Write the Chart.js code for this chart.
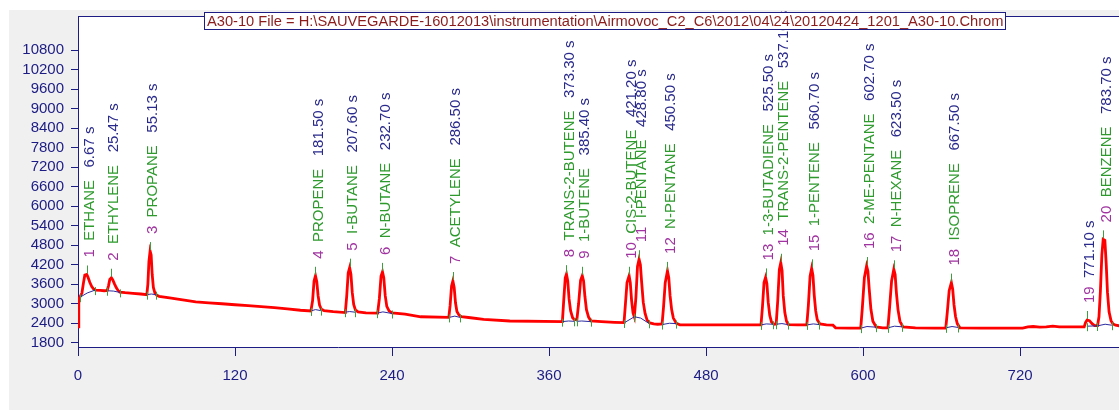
<!DOCTYPE html>
<html>
<head>
<meta charset="utf-8">
<script src="https://cdn.jsdelivr.net/npm/chart.js@4.4.1/dist/chart.umd.min.js"></script>
<style>
  html, body { margin: 0; padding: 0; background: #fff; overflow: hidden; }
  canvas { display: block; }
</style>
</head>
<body>
<canvas id="chrom" width="1119" height="410"></canvas>
<script>
// ---- data ----
var titleText = String.raw`A30-10 File = H:\SAUVEGARDE-16012013\instrumentation\Airmovoc_C2_C6\2012\04\24\20120424_1201_A30-10.Chrom`;

var xTicks = [0, 120, 240, 360, 480, 600, 720];
var yTicks = [1800, 2400, 3000, 3600, 4200, 4800, 5400, 6000, 6600, 7200, 7800, 8400, 9000, 9600, 10200, 10800];

var peakNums  = [1, 2, 3, 4, 5, 6, 7, 8, 9, 10, 11, 12, 13, 14, 15, 16, 17, 18, 19, 20];
var peakNames = ['ETHANE', 'ETHYLENE', 'PROPANE', 'PROPENE', 'I-BUTANE', 'N-BUTANE', 'ACETYLENE',
                 'TRANS-2-BUTENE', '1-BUTENE', 'CIS-2-BUTENE', 'I-PENTANE', 'N-PENTANE',
                 '1-3-BUTADIENE', 'TRANS-2-PENTENE', '1-PENTENE', '2-ME-PENTANE', 'N-HEXANE',
                 'ISOPRENE', '', 'BENZENE'];
var peakTimes = [6.67, 25.47, 55.13, 181.5, 207.6, 232.7, 286.5, 373.3, 385.4, 421.2,
                 428.8, 450.5, 525.5, 537.1, 560.7, 602.7, 623.5, 667.5, 771.1, 783.7];
var peakTops  = [3900, 3800, 4620, 3860, 4110, 3980, 3700, 3910, 3860, 3860,
                 4370, 4010, 3810, 4260, 4090, 4160, 4060, 3650, 2500, 4980];

// detector signal: [time s, signal]
var trace = [
  [0,2290],[0.6,3150],[1.5,3210],[3,3330],[4.2,3650],[5.2,3880],[6.7,3900],[7.6,3820],[9,3660],[10.5,3530],
  [12,3450],[13.5,3420],[17,3410],[20,3400],[22.3,3410],
  [23.3,3550],[24.3,3750],[25.5,3800],[26.5,3740],[27.8,3620],[29.2,3500],[30.6,3410],[32,3360],[36,3340],
  [42,3320],[48,3300],[52.6,3280],
  [53.4,3600],[54.2,4300],[55.1,4620],[55.9,4500],[56.7,3900],[57.6,3500],[58.8,3330],[60.3,3260],[62,3230],
  [70,3180],[80,3120],[90,3060],[100,3030],[110,3000],[120,2970],[130,2940],[140,2910],[150,2880],[160,2840],
  [170,2800],[178,2780],
  [179.3,3100],[180.4,3700],[181.5,3860],[182.5,3680],[183.5,3250],[184.6,2960],[186,2830],[188,2790],[195,2760],[204.3,2730],
  [205.4,3250],[206.5,3950],[207.6,4110],[208.6,3900],[209.6,3350],[210.7,2980],[212,2810],[214,2750],[220,2720],[229,2710],
  [230.3,3150],[231.6,3850],[232.7,3980],[233.7,3800],[234.8,3250],[236,2920],[237.7,2780],[240,2720],[250,2680],[262,2600],[283.4,2580],
  [284.4,2950],[285.5,3550],[286.5,3700],[287.5,3500],[288.5,3030],[289.6,2760],[291.2,2650],[293,2600],[300,2570],[310,2520],[330,2470],[370.2,2450],
  [371.3,3150],[372.4,3800],[373.3,3910],[374.3,3700],[375.3,3150],[376.5,2780],[378,2570],[379.5,2510],[381.3,2520],
  [382.6,3000],[384.1,3720],[385.4,3860],[386.4,3700],[387.4,3230],[388.6,2820],[390.2,2590],[392,2470],[400,2450],[410,2430],[417.3,2420],
  [418.4,3000],[419.6,3650],[421.2,3860],[422.1,3650],[423.1,3100],[424.2,2720],[425.2,2600],
  [426.4,3200],[427.6,4150],[428.8,4370],[429.8,4200],[430.8,3650],[432,3050],[433.4,2700],[435,2490],[437,2410],[440,2380],[443,2370],[446.4,2380],
  [447.5,2900],[448.8,3650],[450.5,4010],[451.5,3800],[452.5,3250],[453.7,2820],[455,2560],[457.2,2400],[460,2350],[480,2350],[500,2350],[522,2350],
  [523.1,2900],[524.3,3650],[525.5,3810],[526.5,3620],[527.5,3050],[528.7,2640],[530,2440],[532,2370],[533.6,2380],
  [534.8,3100],[536,4050],[537.1,4260],[538.1,4020],[539,3250],[540.2,2730],[541.5,2460],[543,2360],[550,2350],[557,2350],
  [558.2,2950],[559.5,3850],[560.7,4090],[561.7,3870],[562.7,3250],[563.8,2780],[565,2510],[567,2380],[572,2350],[577,2340],[579,2260],[590,2250],[598.2,2250],
  [599.4,2850],[601,3800],[602.7,4160],[603.7,4000],[604.7,3450],[606,2830],[607.5,2460],[610,2290],[615,2260],[619,2260],
  [620.2,2850],[621.8,3700],[623.5,4060],[624.5,3900],[625.5,3330],[626.7,2820],[628.2,2460],[630.5,2290],[640,2260],[655,2250],[663.2,2250],
  [664.4,2750],[665.8,3400],[667.5,3650],[668.5,3450],[669.5,2970],[670.7,2600],[672,2390],[674,2260],[690,2250],[710,2250],[722,2250],
  [726,2290],[730,2300],[735,2280],[740,2290],[745,2310],[750,2290],[760,2290],[769,2290],
  [770,2420],[771.2,2500],[773,2480],[775,2390],[777,2330],[779.2,2330],
  [780.3,2600],[781.4,3400],[782.5,4500],[783.5,4980],[784.8,4950],[785.8,4250],[786.8,3350],[788,2750],[789.5,2480],[791,2380],[793,2340],[796,2320]
];

// integration baselines under each peak: [time, signal] points
var baseSegments = [
  [[1.5,3200],[7,3330],[13,3420]],
  [[22.5,3400],[27,3390],[32,3350]],
  [[52.5,3280],[56,3300],[59.5,3280]],
  [[178,2780],[181.5,2820],[185.5,2790]],
  [[204,2740],[207.6,2760],[212,2740]],
  [[228.6,2710],[233,2750],[240,2700]],
  [[283.6,2580],[288,2620],[292,2580]],
  [[370,2450],[375,2470],[379.4,2460]],
  [[381,2460],[385,2470],[391.8,2450]],
  [[417.3,2410],[425.2,2600]],
  [[425.2,2600],[430,2560],[436.2,2400]],
  [[446.4,2360],[452,2400],[457.1,2390]],
  [[522,2350],[526,2380],[531,2370]],
  [[533.5,2370],[538,2390],[542.4,2360]],
  [[557,2350],[562,2380],[566.4,2360]],
  [[598.2,2250],[603,2300],[609.9,2280]],
  [[618.9,2260],[624,2310],[630,2290]],
  [[663.2,2260],[668,2300],[672.9,2270]],
  [[771,2310],[779.1,2320]],
  [[779.1,2320],[785,2370],[790.1,2340]]
];

// ---- build datasets ----
var signalData = trace.map(p => ({ x: p[0], y: p[1] }));
var baseData = [];
baseSegments.forEach(seg => {
  seg.forEach(p => baseData.push({ x: p[0], y: p[1] }));
  baseData.push({ x: seg[seg.length - 1][0], y: null });
});

var NAVY = '#1c1c84';
var FONT_FAMILY = '"Liberation Sans", Arial, sans-serif';

var panelBg = {
  id: 'panelBg',
  beforeDraw(chart) {
    var c = chart.ctx, a = chart.chartArea;
    c.save();
    c.fillStyle = '#ffffff';
    c.fillRect(0, 0, chart.width, chart.height);
    c.fillStyle = '#f0f0f0';
    c.fillRect(9, 10, chart.width - 9, chart.height - 10);
    c.fillStyle = '#ffffff';
    c.fillRect(a.left, a.top, a.right - a.left, a.bottom - a.top);
    c.restore();
  }
};

var peakLabels = {
  id: 'peakLabels',
  afterDatasetsDraw(chart) {
    var c = chart.ctx, xs = chart.scales.x, ys = chart.scales.y;
    c.save();
    c.lineWidth = 1;
    c.strokeStyle = '#3c9e3c';
    baseSegments.forEach(seg => {
      [seg[0], seg[seg.length - 1]].forEach(p => {
        var px = Math.round(xs.getPixelForValue(p[0])) + 0.5;
        var py = ys.getPixelForValue(p[1]);
        c.beginPath(); c.moveTo(px, py - 3); c.lineTo(px, py + 5); c.stroke();
      });
    });

    c.font = '15px ' + FONT_FAMILY;
    c.textBaseline = 'middle';
    c.textAlign = 'left';
    peakTimes.forEach((t, i) => {
      var px = xs.getPixelForValue(t);
      var py = ys.getPixelForValue(peakTops[i]);
      c.strokeStyle = '#3c9e3c';
      c.beginPath();
      c.moveTo(Math.round(px) + 0.5, py - 1);
      c.lineTo(Math.round(px) + 0.5, py - 9);
      c.stroke();

      c.save();
      c.translate(px + 3, py);
      c.rotate(-Math.PI / 2);
      var num = String(peakNums[i]);
      var d = 17;
      c.fillStyle = '#a033a0';
      c.fillText(num, d, 0);
      d += c.measureText(num + '  ').width;
      if (peakNames[i]) {
        c.fillStyle = '#2e9a2e';
        c.fillText(peakNames[i], d, 0);
        d += c.measureText(peakNames[i] + '   ').width;
      }
      c.fillStyle = '#2a2a8c';
      c.fillText(t.toFixed(2) + ' s', d, 0);
      c.restore();
    });
    c.restore();
  },
  afterDraw(chart) {
    var c = chart.ctx, a = chart.chartArea;
    c.save();
    // top border of plot
    c.strokeStyle = NAVY;
    c.lineWidth = 1;
    c.beginPath(); c.moveTo(a.left, a.top + 0.5); c.lineTo(a.right, a.top + 0.5); c.stroke();

    // file title box
    var boxL = 204, boxR = 1006, boxT = 12, boxH = 17;
    c.font = '14px ' + FONT_FAMILY;
    var size = 14 * (boxR - boxL - 5) / c.measureText(titleText).width;
    c.font = size.toFixed(2) + 'px ' + FONT_FAMILY;
    c.fillStyle = '#ffffff';
    c.fillRect(boxL, boxT, boxR - boxL, boxH);
    c.strokeStyle = NAVY;
    c.strokeRect(boxL + 0.5, boxT + 0.5, boxR - boxL - 1, boxH);
    c.fillStyle = '#8c1c1c';
    c.textBaseline = 'middle';
    c.textAlign = 'left';
    c.fillText(titleText, boxL + 3, boxT + boxH / 2 + 1);
    c.restore();
  }
};

new Chart(document.getElementById('chrom'), {
  type: 'line',
  data: {
    datasets: [
      { label: 'baseline', data: baseData, borderColor: '#2b2ba0', borderWidth: 1,
        pointRadius: 0, tension: 0, spanGaps: false, order: 0 },
      { label: 'signal', data: signalData, borderColor: '#ff0000', borderWidth: 2.8,
        pointRadius: 0, tension: 0, order: 1 }
    ]
  },
  options: {
    responsive: false,
    devicePixelRatio: 1,
    animation: false,
    events: [],
    layout: { padding: { left: 0, top: 12, right: 0, bottom: 0 } },
    plugins: { legend: { display: false }, tooltip: { enabled: false } },
    scales: {
      x: {
        type: 'linear', min: 0, max: 795.6,
        afterBuildTicks: s => { s.ticks = xTicks.map(v => ({ value: v })); },
        afterFit: s => { s.height = 63; },
        grid: { drawOnChartArea: false, drawTicks: true, tickLength: 9, color: NAVY, tickWidth: 1 },
        border: { display: true, color: NAVY, width: 1 },
        ticks: { color: NAVY, padding: 11, maxRotation: 0, autoSkip: false,
                 font: { family: FONT_FAMILY, size: 15 } }
      },
      y: {
        min: 1670, max: 11850,
        afterBuildTicks: s => { s.ticks = yTicks.map(v => ({ value: v })); },
        afterFit: s => { s.width = 78; },
        grid: { drawOnChartArea: false, drawTicks: true, tickLength: 7, color: NAVY, tickWidth: 1 },
        border: { display: true, color: NAVY, width: 1 },
        ticks: { color: NAVY, padding: 7, autoSkip: false,
                 font: { family: FONT_FAMILY, size: 15 },
                 callback: v => String(v) }
      }
    }
  },
  plugins: [panelBg, peakLabels]
});
</script>
</body>
</html>
